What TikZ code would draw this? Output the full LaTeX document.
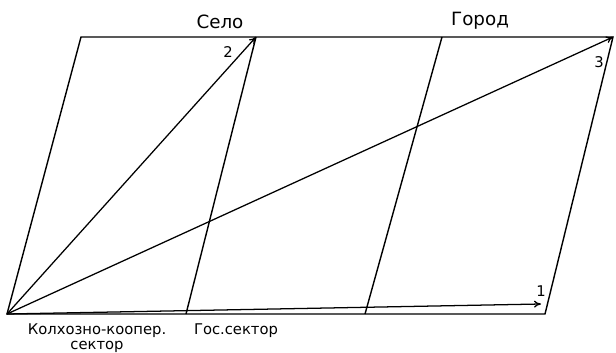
\documentclass[tikz,border=0pt]{standalone}
\usepackage{fontspec}
\setmainfont{DejaVu Sans}
\usetikzlibrary{positioning,arrows.meta}

\begin{document}
\begin{tikzpicture}[x=0.025cm,y=-0.025cm,
    edge/.style={line width=1pt},
    vec/.style={line width=0.9pt,-{To[length=5pt,width=5pt]}},
    head/.style={font=\fontsize{13}{15}\selectfont},
    lbl/.style={font=\fontsize{10.5}{11}\selectfont,align=center}]
    \useasboundingbox (0,0) rectangle (616,353);
    % corners of the band
    \coordinate (o) at (7,314);
    \coordinate (b1) at (186,314);
    \coordinate (b2) at (365,314);
    \coordinate (br) at (545,314);
    \coordinate (tl) at (81,37);
    \coordinate (t1) at (256,37);
    \coordinate (t2) at (442,37);
    \coordinate (tr) at (613,37);
    \coordinate (e1) at (541,304);
    \draw[edge] (o) -- (br) -- (tr) -- (tl) -- cycle;
    \draw[edge] (b1) -- (t1);
    \draw[edge] (b2) -- (t2);
    % vectors
    \draw[vec] (o) -- (e1);
    \draw[vec] (o) -- (t1);
    \draw[vec] (o) -- (tr);
    \node[lbl] (n1) at (541,291) {1};
    \node[lbl] (n2) at (228,52) {2};
    \node[lbl] (n3) at (599,62) {3};
    % labels
    \node[head] (selo) at (220,22) {Село};
    \node[head] (gorod) at (480,21) {Город};
    \node[lbl] (kolkh) at (97,338) {Колхозно-коопер.\\сектор};
    \node[lbl] (gos) at (236,331) {Гос.сектор};
\end{tikzpicture}
\end{document}
